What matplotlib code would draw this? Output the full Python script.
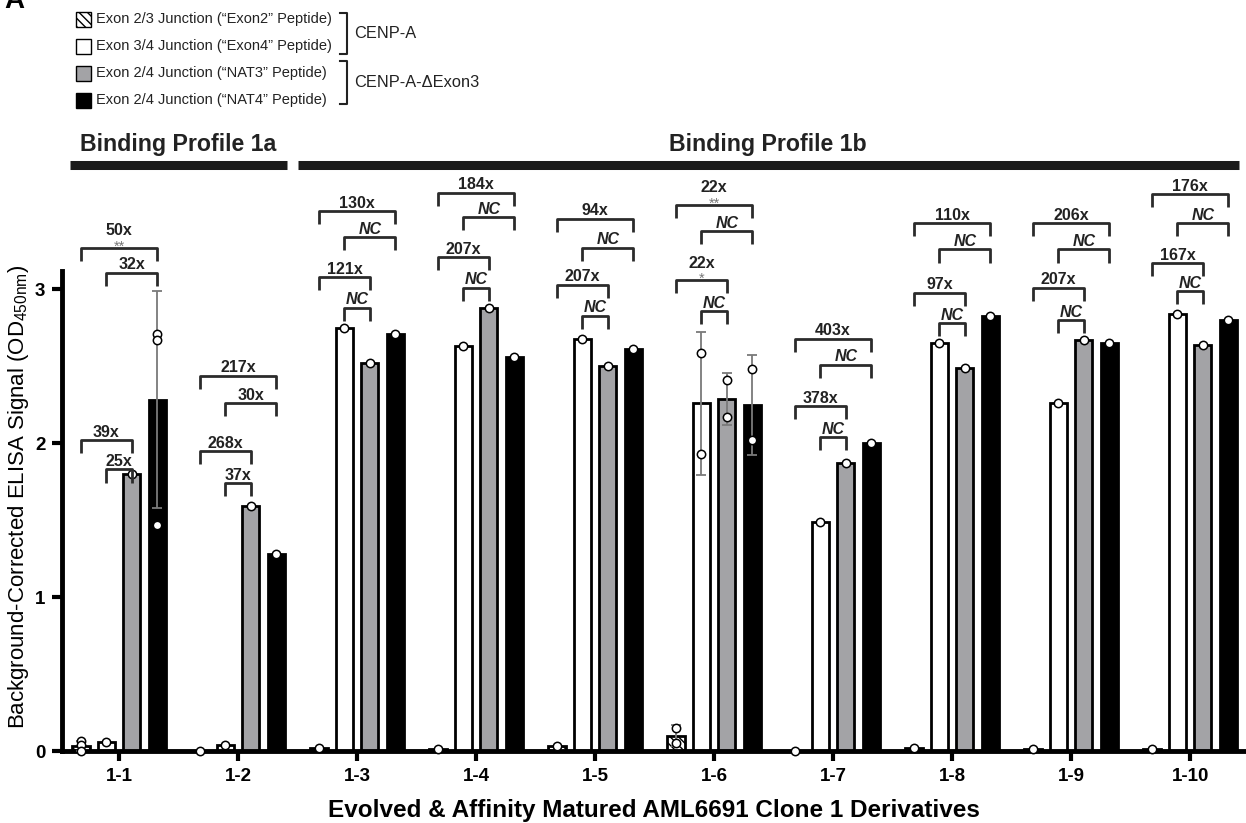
import numpy as np
import matplotlib
matplotlib.use("Agg")
import matplotlib.pyplot as plt
from matplotlib.patches import Rectangle

plt.rcParams['font.family'] = ['Liberation Sans', 'DejaVu Sans']
plt.rcParams['mathtext.default'] = 'regular'
plt.rcParams['hatch.linewidth'] = 1.0

# --- data ---
clones = ['1-1', '1-2', '1-3', '1-4', '1-5', '1-6', '1-7', '1-8', '1-9', '1-10']
series_labels = ['Exon 2/3 Junction (\u201cExon2\u201d Peptide)',
                 'Exon 3/4 Junction (\u201cExon4\u201d Peptide)',
                 'Exon 2/4 Junction (\u201cNAT3\u201d Peptide)',
                 'Exon 2/4 Junction (\u201cNAT4\u201d Peptide)']

# replicate points per clone
exon2 = [[0.065, 0.04, 0.0], [0.0], [0.02], [0.01], [0.03], [0.15, 0.05],
         [0.0], [0.02], [0.01], [0.01]]
exon4 = [[0.06], [0.04], [2.75], [2.63], [2.68], [2.59, 1.93],
         [1.49], [2.65], [2.26], [2.84]]
nat3 = [[1.80], [1.59], [2.52], [2.88], [2.50], [2.41, 2.17],
        [1.87], [2.49], [2.67], [2.64]]
nat4 = [[2.71, 2.67, 1.47], [1.28], [2.71], [2.56], [2.61], [2.48, 2.02],
        [2.00], [2.83], [2.65], [2.80]]

# fold-change annotations
lab_w_nat3 = ['25x', '37x', 'NC', 'NC', 'NC', 'NC', 'NC', 'NC', 'NC', 'NC']
lab_e_nat3 = ['39x', '268x', '121x', '207x', '207x', '22x', '378x', '97x', '207x', '167x']
lab_w_nat4 = ['32x', '30x', 'NC', 'NC', 'NC', 'NC', 'NC', 'NC', 'NC', 'NC']
lab_e_nat4 = ['50x', '217x', '130x', '184x', '94x', '22x', '403x', '110x', '206x', '176x']
stars_e_nat3 = ['', '', '', '', '', '*', '', '', '', '']
stars_e_nat4 = ['**', '', '', '', '', '**', '', '', '', '']

# bracket heights (layout)
br_w_nat3 = [1.83, 1.74, 2.88, 3.01, 2.83, 2.86, 2.04, 2.78, 2.80, 2.99]
br_e_nat3 = [2.02, 1.95, 3.08, 3.21, 3.03, 3.06, 2.24, 2.98, 3.01, 3.17]
br_w_nat4 = [3.11, 2.26, 3.34, 3.47, 3.27, 3.38, 2.51, 3.26, 3.26, 3.43]
br_e_nat4 = [3.27, 2.44, 3.51, 3.63, 3.46, 3.55, 2.68, 3.43, 3.43, 3.62]

profiles = [('Binding Profile 1a', 0, 1), ('Binding Profile 1b', 2, 9)]

# --- figure ---
W, H = 1246, 823
fig = plt.figure(figsize=(W / 100, H / 100), dpi=100)
ax = fig.add_axes([62 / W, 1 - 751 / H, 1 - 62 / W, 480 / H])

x = np.arange(len(clones))
offsets = [-0.32, -0.107, 0.107, 0.32]
bw = 0.145
fills = ['white', 'white', '#a3a3a6', 'black']
hatches = ['\\\\\\\\', None, None, None]
all_series = [exon2, exon4, nat3, nat4]

for k, reps in enumerate(all_series):
    xs = x + offsets[k]
    means = np.array([np.mean(r) for r in reps])
    sds = np.array([np.std(r, ddof=1) if len(r) > 1 else 0.0 for r in reps])
    ax.bar(xs, means, width=bw, color=fills[k], edgecolor='black',
           linewidth=2.0, hatch=hatches[k], zorder=2)
    has_err = sds > 0
    ax.errorbar(xs[has_err], means[has_err], yerr=sds[has_err], fmt='none',
                ecolor='#7a7a7a', elinewidth=1.3, capsize=3.5, capthick=1.3,
                zorder=3)
    for xi, r in zip(xs, reps):
        ax.plot([xi] * len(r), r, 'o', mfc='white', mec='black', ms=6,
                mew=1.1, zorder=4, clip_on=False)


def bracket(x0, x1, y, label, stars=''):
    leg = 0.085
    ax.plot([x0, x0, x1, x1], [y - leg, y, y, y - leg], color='#2b2b2b',
            lw=2.0, clip_on=False, solid_capstyle='butt', zorder=5)
    mid = (x0 + x1) / 2
    style = 'italic' if label == 'NC' else 'normal'
    dy = 9 if stars else 2.5
    ax.annotate(label, (mid, y), xytext=(0, dy), textcoords='offset points',
                ha='center', va='baseline', fontsize=11.5, fontweight='bold',
                fontstyle=style, color='#222222', annotation_clip=False)
    if stars:
        ax.annotate(stars, (mid, y), xytext=(0, -2), textcoords='offset points',
                    ha='center', va='baseline', fontsize=10.5, color='#777777',
                    annotation_clip=False)


for i in range(len(clones)):
    he, wh, n3, n4 = (x[i] + o for o in offsets)
    bracket(wh, n3, br_w_nat3[i], lab_w_nat3[i])
    bracket(he, n3, br_e_nat3[i], lab_e_nat3[i], stars_e_nat3[i])
    bracket(wh, n4, br_w_nat4[i], lab_w_nat4[i])
    bracket(he, n4, br_e_nat4[i], lab_e_nat4[i], stars_e_nat4[i])

for name, g0, g1 in profiles:
    x0 = g0 - 0.41 if g0 == 0 else g0 - 0.5
    x1 = g1 + 0.41
    ax.plot([x0, x1], [3.81, 3.81], color='#1a1a1a', lw=6.5, clip_on=False,
            solid_capstyle='butt')
    ax.text((x0 + x1) / 2, 3.87, name, ha='center', va='bottom',
            fontsize=16.7, fontweight='bold', color='#222222', clip_on=False)

ax.set_xlim(-0.48, 9.47)
ax.set_ylim(0, 3.12)
ax.set_xticks(x)
ax.set_xticklabels(clones)
ax.set_yticks([0, 1, 2, 3])
for lbl in ax.get_xticklabels() + ax.get_yticklabels():
    lbl.set_fontweight('bold')
ax.tick_params(axis='both', width=3, length=7, labelsize=13.5, pad=5,
               color='black')
ax.spines['top'].set_visible(False)
ax.spines['right'].set_visible(False)
ax.spines['left'].set_linewidth(3.5)
ax.spines['bottom'].set_linewidth(3.5)
ax.set_xlabel('Evolved & Affinity Matured AML6691 Clone 1 Derivatives',
              fontsize=17.5, fontweight='bold', labelpad=10)
ax.set_ylabel('Background-Corrected ELISA Signal (OD$_{450nm}$)', fontsize=16)
ax.yaxis.set_label_coords(-0.026, 0.53)

# --- legend (figure pixel layout) ---
def fx(px):
    return px / W


def fy(py):
    return 1 - py / H


rows = [19, 46, 73, 100]
for k, ry in enumerate(rows):
    fig.patches.append(Rectangle((fx(76), fy(ry + 8)), 15 / W, 15 / H,
                                 transform=fig.transFigure,
                                 facecolor=fills[k], edgecolor='black',
                                 lw=1.0, hatch=hatches[k]))
    fig.text(fx(96), fy(ry), series_labels[k], fontsize=10.5, va='center',
             ha='left', color='#222222')

for top, bot, name in [(13, 54, 'CENP-A'), (61, 104, 'CENP-A-\u0394Exon3')]:
    fig.lines.append(plt.Line2D([fx(340), fx(347), fx(347), fx(340)],
                                [fy(top), fy(top), fy(bot), fy(bot)],
                                transform=fig.transFigure, color='#222222',
                                lw=1.5))
    fig.text(fx(354), fy((top + bot) / 2), name, fontsize=11.8, va='center',
             ha='left', color='#222222')

fig.text(fx(4), fy(8), 'A', fontsize=20, fontweight='bold', va='baseline',
         ha='left')

fig.savefig('out.png', dpi=100)
